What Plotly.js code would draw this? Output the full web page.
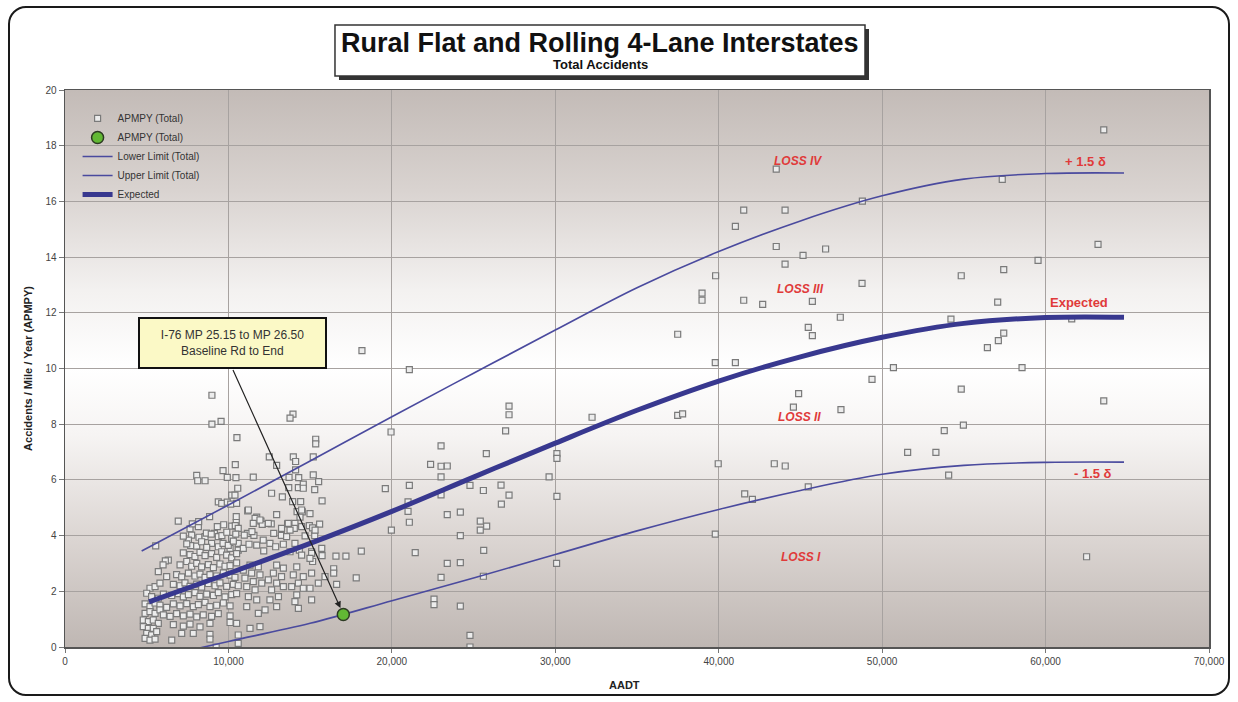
<!DOCTYPE html>
<html>
<head>
<meta charset="utf-8">
<script src="https://cdn.plot.ly/plotly-3.0.1.min.js"></script>
<style>
  html, body { margin: 0; padding: 0; background: #ffffff; }
  #wrap { position: relative; width: 1238px; height: 702px; overflow: hidden; }
  #frame { position: absolute; left: 8px; top: 6px; width: 1222px; height: 690px;
           border: 2px solid #1a1a1a; border-radius: 18px; box-sizing: border-box; }
  #grad { position: absolute; left: 65px; top: 90px; width: 1144px; height: 557px;
          background: linear-gradient(to bottom, #c3bbb7 0%, #d9d3d0 18%, #f3f1f0 36%, #ffffff 50%, #f6f4f3 62%, #dcd6d3 80%, #bfb7b3 100%); }
  #chart { position: absolute; left: 0; top: 0; width: 1238px; height: 702px; }
</style>
</head>
<body>
<div id="wrap">
  <div id="frame"></div>
  <div id="grad"></div>
  <div id="chart"></div>
</div>
<script>
// ---- Data ----
const apmpyX = [
  63560,43520,41530,44060,41020,48790,57350,43520,46540,45160,44060,39810,63210,59540,57440,54840,48770,38980,38980,41530,42690,45730,57070,47440,54210,
  37490,45480,45730,57440,57110,56440,61600,39790,41020,50690,58560,49380,44890,54840,63560,37490,37790,44570,47480,54970,53800,51560,53290,39970,43400,44070,54070,41590,42060,45480,39790,62510,
  18170,21070,27170,27170,32250,26960,19950,23010,25780,30100,30100,22370,23010,23390,23010,29620,19600,21070,24780,25600,26680,27170,30100,23010,20990,20990,23390,24190,26700,21070,25410,25800,25410,19970,24190,25620,21430,18130,16580,17190,23390,24190,30080,16440,16440,17820,16620,23010,25600,22580,22580,24190,24780,24780,
  8990,8990,9550,13950,13770,10520,15340,15340,12500,13970,14110,15190,10420,12950,14110,9670,8060,8120,8570,9930,10460,11520,13710,14300,15190,15520,10570,13690,14280,14580,14580,15280,10200,10400,12640,13300,15730,9380,9590,9930,10140,14420,13930,
  8850,8160,7650,6930,5550,11180,11730,11990,12070,12950,14200,14520,14380,14990,10480,10480,10200,10420,10600,9710,9320,8180,7790,11160,10970,11560,11440,12620,13250,13620,14070,14030,12770,13240,13560,14950,15150,15580,15280,14690,
  7750,7550,7690,7240,7450,6320,6140,8200,8570,8650,9140,9380,8970,9380,9670,10200,10600,10100,10600,10910,11260,11730,12130,12540,12160,12890,13360,14070,13770,14340,14480,15090,15710,15730,15150,
  15090,15910,15500,14990,14180,13970,14580,14280,13870,14580,14180,14070,12950,13360,12750,13250,12440,12950,13360,12640,13060,12540,12950,12240,
  11320,11830,10910,11420,11930,11010,11520,12040,11120,11630,11220,11730,11120,11830,11320,11930,10500,10600,
  15090,14280,10600,14480,10500,11220,11630,11930,11520,12440,13660,13770,14480,15300,15090,14990,
  7240,8950,9600,9900,10450,
  7450,8060,8360,8670,9990,10300,
  7650,7950,8260,8570,8970,9280,9590,9890,10200,10500,
  7040,7750,8060,8360,8770,9080,9480,9790,10100,10500,6000,
  5710,6220,6830,7140,7550,7950,8260,8570,8870,9280,9690,10100,10400,
  5200,5510,5810,6630,7040,7340,7650,8060,8360,8770,9180,9480,9890,10300,10600,
  5000,5300,5710,6020,6530,6930,7240,7550,7950,8260,8670,9080,9380,9790,10200,10500,
  4900,5200,5510,5810,6220,6630,7040,7450,7850,8160,8570,8870,9280,9690,10100,
  4900,5200,5510,5810,6020,6430,6830,7240,7650,8060,8460,8970,9380,10100,
  4790,5100,5400,5710,4790,5100,5400,6630,7240,7650,8260,8870,10100,
  5000,5300,5610,7140,7850,8870,
  4900,5200,5510,6530,8870,9250
];
const apmpyY = [
  18.57,17.16,15.69,15.69,15.10,16.01,16.79,14.38,14.29,14.06,13.75,13.33,14.46,13.88,13.55,13.33,13.06,12.71,12.45,12.45,12.30,12.41,12.38,11.84,11.77,
  11.23,11.48,11.18,11.27,11.00,10.75,11.78,10.21,10.21,10.03,10.03,9.61,9.10,9.26,8.84,8.32,8.37,8.61,8.52,7.97,7.77,6.99,6.99,6.58,6.58,6.50,6.17,5.50,5.30,5.75,4.05,3.24,
  10.64,9.96,8.65,8.34,8.25,7.76,7.72,7.22,6.94,6.94,6.77,6.56,6.49,6.50,6.11,6.11,5.69,5.80,5.80,5.62,5.81,5.45,5.41,5.46,5.21,4.87,4.75,4.84,5.13,4.48,4.52,4.34,4.20,4.20,4.00,3.47,3.39,3.44,3.26,3.26,3.00,3.03,3.00,2.81,2.65,2.48,2.25,2.50,2.54,1.72,1.52,1.47,0.42,0.00,
  9.04,8.00,8.10,8.36,8.22,7.52,7.46,7.29,6.83,6.83,6.66,6.83,6.55,6.52,6.36,6.33,6.16,5.97,5.97,6.09,6.08,6.10,6.09,6.08,6.18,5.94,5.70,5.72,5.72,5.85,5.70,5.65,5.45,5.45,5.52,5.39,5.25,5.21,5.16,5.20,5.13,5.22,5.22,
  4.68,4.32,4.24,4.52,3.63,4.89,4.66,4.52,4.40,4.75,4.86,4.85,4.66,4.79,4.68,4.47,4.34,4.36,4.26,4.39,4.32,4.50,4.42,4.08,4.02,4.01,4.14,4.42,4.26,4.42,4.44,4.26,4.08,4.01,3.96,4.36,4.28,4.41,4.00,3.99,
  4.02,3.84,3.64,3.38,3.07,3.12,3.09,3.94,3.96,4.09,4.08,3.96,3.72,3.60,3.72,3.90,3.72,3.54,3.48,3.54,3.69,3.66,3.84,3.72,3.45,3.60,3.69,3.72,3.42,3.48,3.30,3.42,3.54,3.28,3.07,
  2.65,2.53,2.29,2.11,2.88,2.59,2.53,2.29,2.17,2.11,1.87,1.63,2.94,2.83,2.65,2.53,2.41,2.29,2.17,2.05,1.81,1.69,1.45,1.33,
  2.94,2.88,2.76,2.65,2.59,2.47,2.35,2.29,2.17,2.05,1.81,1.69,1.45,1.21,0.67,0.73,0.85,0.43,
  1.69,1.39,0.13,4.92,5.16,4.92,4.62,4.56,4.44,4.44,4.44,4.20,4.32,4.20,3.36,3.18,
  3.98,4.05,4.00,4.12,4.05,
  3.70,3.62,3.78,3.58,3.65,3.80,
  3.32,3.25,3.40,3.28,3.35,3.22,3.42,3.30,3.20,3.35,
  2.95,2.90,3.00,2.88,2.96,2.85,2.98,2.90,2.92,3.02,2.95,
  2.71,2.53,2.60,2.52,2.65,2.55,2.62,2.50,2.60,2.55,2.66,2.58,2.50,
  2.11,2.17,2.29,2.25,2.20,2.30,2.18,2.26,2.15,2.28,2.20,2.30,2.18,2.25,2.20,
  1.93,1.81,1.75,1.90,1.85,1.92,1.80,1.88,1.95,1.82,1.90,1.85,1.95,1.80,1.88,1.92,
  1.55,1.45,1.58,1.50,1.42,1.55,1.48,1.56,1.45,1.52,1.60,1.45,1.50,1.58,1.48,
  1.21,1.27,1.21,1.33,1.15,1.10,1.20,1.12,1.18,1.08,1.15,1.10,1.20,1.12,
  0.97,0.91,0.97,0.85,0.73,0.67,0.67,0.80,0.75,0.82,0.72,0.85,0.88,
  0.49,0.43,0.55,0.49,0.49,0.45,
  0.31,0.25,0.28,0.25,0.28,0.00
];

const expectedX = [5140, 10000, 15000, 20000, 25000, 30000, 35000, 40000, 45000, 50000, 55000, 60000, 64800];
const expectedY = [1.62, 2.64, 3.72, 4.87, 6.10, 7.32, 8.50, 9.55, 10.42, 11.12, 11.62, 11.83, 11.84];

const upperX = [4690, 10000, 15000, 20000, 25000, 30000, 35000, 40000, 45000, 50000, 55000, 60000, 64800];
const upperY = [3.45, 5.10, 6.68, 8.27, 9.83, 11.38, 12.90, 14.20, 15.30, 16.20, 16.80, 17.00, 17.02];

const lowerX = [7000, 10000, 15000, 20000, 25000, 30000, 35000, 40000, 45000, 50000, 55000, 60000, 64800];
const lowerY = [-0.20, 0.20, 0.85, 1.66, 2.48, 3.32, 4.17, 4.94, 5.62, 6.20, 6.52, 6.63, 6.64];

const siteX = [17030];
const siteY = [1.17];

const xTickVals = [0, 10000, 20000, 30000, 40000, 50000, 60000, 70000];
const xTickText = ['0', '10,000', '20,000', '30,000', '40,000', '50,000', '60,000', '70,000'];
const yTickVals = [0, 2, 4, 6, 8, 10, 12, 14, 16, 18, 20];

const zoneLabels = ['<i>LOSS IV</i>', '<i>LOSS III</i>', '<i>LOSS II</i>', '<i>LOSS I</i>'];
const zoneX = [44850, 45030, 44970, 45030];
const zoneY = [17.46, 12.85, 8.27, 3.22];

const curveLabels = ['+ 1.5 δ', 'Expected', '- 1.5 δ'];
const curveLabelX = [62450, 62060, 62920];
const curveLabelY = [17.43, 12.38, 6.24];

// ---- Chart ----
const FONT = '"Liberation Sans", Arial, Helvetica, sans-serif';
const lineColor = '#4a4a9e';
const expColor = '#38388f';

const traces = [
  {
    type: 'scatter', mode: 'markers', name: 'APMPY (Total)',
    x: apmpyX, y: apmpyY,
    marker: { symbol: 'square', size: 6, color: '#ececec', line: { color: '#7a7a7a', width: 1.2 } },
    legendrank: 1
  },
  {
    type: 'scatter', mode: 'lines', name: 'Lower Limit (Total)',
    x: lowerX, y: lowerY, line: { color: lineColor, width: 1.6, shape: 'spline', smoothing: 1 },
    legendrank: 3
  },
  {
    type: 'scatter', mode: 'lines', name: 'Upper Limit (Total)',
    x: upperX, y: upperY, line: { color: lineColor, width: 1.6, shape: 'spline', smoothing: 1 },
    legendrank: 4
  },
  {
    type: 'scatter', mode: 'lines', name: 'Expected',
    x: expectedX, y: expectedY, line: { color: expColor, width: 5, shape: 'spline', smoothing: 1 },
    legendrank: 5
  },
  {
    type: 'scatter', mode: 'markers', name: 'APMPY (Total)',
    x: siteX, y: siteY,
    marker: { symbol: 'circle', size: 12, color: '#62b834', line: { color: '#2c3a22', width: 1.5 } },
    legendrank: 2
  }
];

const annotations = [];
for (let i = 0; i < zoneLabels.length; i++) {
  annotations.push({ x: zoneX[i], y: zoneY[i], xref: 'x', yref: 'y', text: '<b>' + zoneLabels[i] + '</b>',
    showarrow: false, font: { family: FONT, size: 12, color: '#e03a3a' } });
}
for (let i = 0; i < curveLabels.length; i++) {
  annotations.push({ x: curveLabelX[i], y: curveLabelY[i], xref: 'x', yref: 'y', text: '<b>' + curveLabels[i] + '</b>',
    showarrow: false, font: { family: FONT, size: 13, color: '#e03a3a' } });
}
// Title box text
annotations.push({ xref: 'paper', yref: 'paper', x: 0.4677, y: 1.0844, xanchor: 'center', yanchor: 'middle',
  text: '<b>Rural Flat and Rolling 4-Lane Interstates</b>', showarrow: false,
  font: { family: FONT, size: 27, color: '#111' } });
annotations.push({ xref: 'paper', yref: 'paper', x: 0.4677, y: 1.0449, xanchor: 'center', yanchor: 'middle',
  text: '<b>Total Accidents</b>', showarrow: false,
  font: { family: FONT, size: 13, color: '#111' } });
// x axis title
annotations.push({ xref: 'paper', yref: 'paper', x: 0.489, y: -0.068, xanchor: 'center', yanchor: 'middle',
  text: '<b>AADT</b>', showarrow: false, font: { family: FONT, size: 11, color: '#222' } });
// Callout box
annotations.push({ x: 10250, y: 10.93, xref: 'x', yref: 'y', showarrow: false,
  text: 'I-76 MP 25.15 to MP 26.50<br>Baseline Rd to End',
  font: { family: FONT, size: 12, color: '#333' },
  bgcolor: '#fbf9c6', bordercolor: '#111', borderwidth: 2, borderpad: 5, width: 175, height: 38 });
// Callout arrow
annotations.push({ x: siteX[0], y: siteY[0], xref: 'x', yref: 'y', text: '', showarrow: true,
  axref: 'pixel', ayref: 'pixel', ax: -111, ay: -246,
  arrowhead: 2, arrowsize: 1.1, arrowwidth: 1.2, arrowcolor: '#222', standoff: 7 });

const shapes = [
  { type: 'rect', xref: 'paper', yref: 'paper', x0: 0.2395, x1: 0.7028, y0: 1.0180, y1: 1.1095,
    fillcolor: '#333333', line: { width: 0 } },
  { type: 'rect', xref: 'paper', yref: 'paper', x0: 0.2360, x1: 0.6993, y0: 1.0251, y1: 1.1167,
    fillcolor: '#ffffff', line: { color: '#333333', width: 1.5 } }
];

const layout = {
  width: 1238, height: 702,
  margin: { l: 65, r: 29, t: 90, b: 55 },
  paper_bgcolor: 'rgba(0,0,0,0)', plot_bgcolor: 'rgba(0,0,0,0)',
  font: { family: FONT, size: 10, color: '#444' },
  showlegend: true,
  legend: { x: 0.011, y: 0.975, xanchor: 'left', yanchor: 'top', bgcolor: 'rgba(0,0,0,0)',
            font: { family: FONT, size: 10, color: '#333' }, itemwidth: 30, tracegroupgap: 0 },
  xaxis: {
    range: [0, 70000], tickvals: xTickVals, ticktext: xTickText,
    showgrid: true, gridcolor: '#a7a2a0', gridwidth: 1,
    showline: true, mirror: true, linecolor: '#555', linewidth: 1.5,
    ticks: 'outside', ticklen: 4, tickcolor: '#777', zeroline: false,
    tickfont: { family: FONT, size: 10, color: '#444' }
  },
  yaxis: {
    range: [0, 20], tickvals: yTickVals,
    showgrid: true, gridcolor: '#a7a2a0', gridwidth: 1,
    showline: true, mirror: true, linecolor: '#555', linewidth: 1.5,
    ticks: 'outside', ticklen: 5, tickcolor: '#777', zeroline: false,
    tickfont: { family: FONT, size: 10, color: '#444' },
    title: { text: '<b>Accidents / Mile / Year (APMPY)</b>', font: { family: FONT, size: 11, color: '#222' }, standoff: 10 }
  },
  annotations: annotations,
  shapes: shapes
};

Plotly.newPlot('chart', traces, layout, { displayModeBar: false, staticPlot: true });
</script>
</body>
</html>
